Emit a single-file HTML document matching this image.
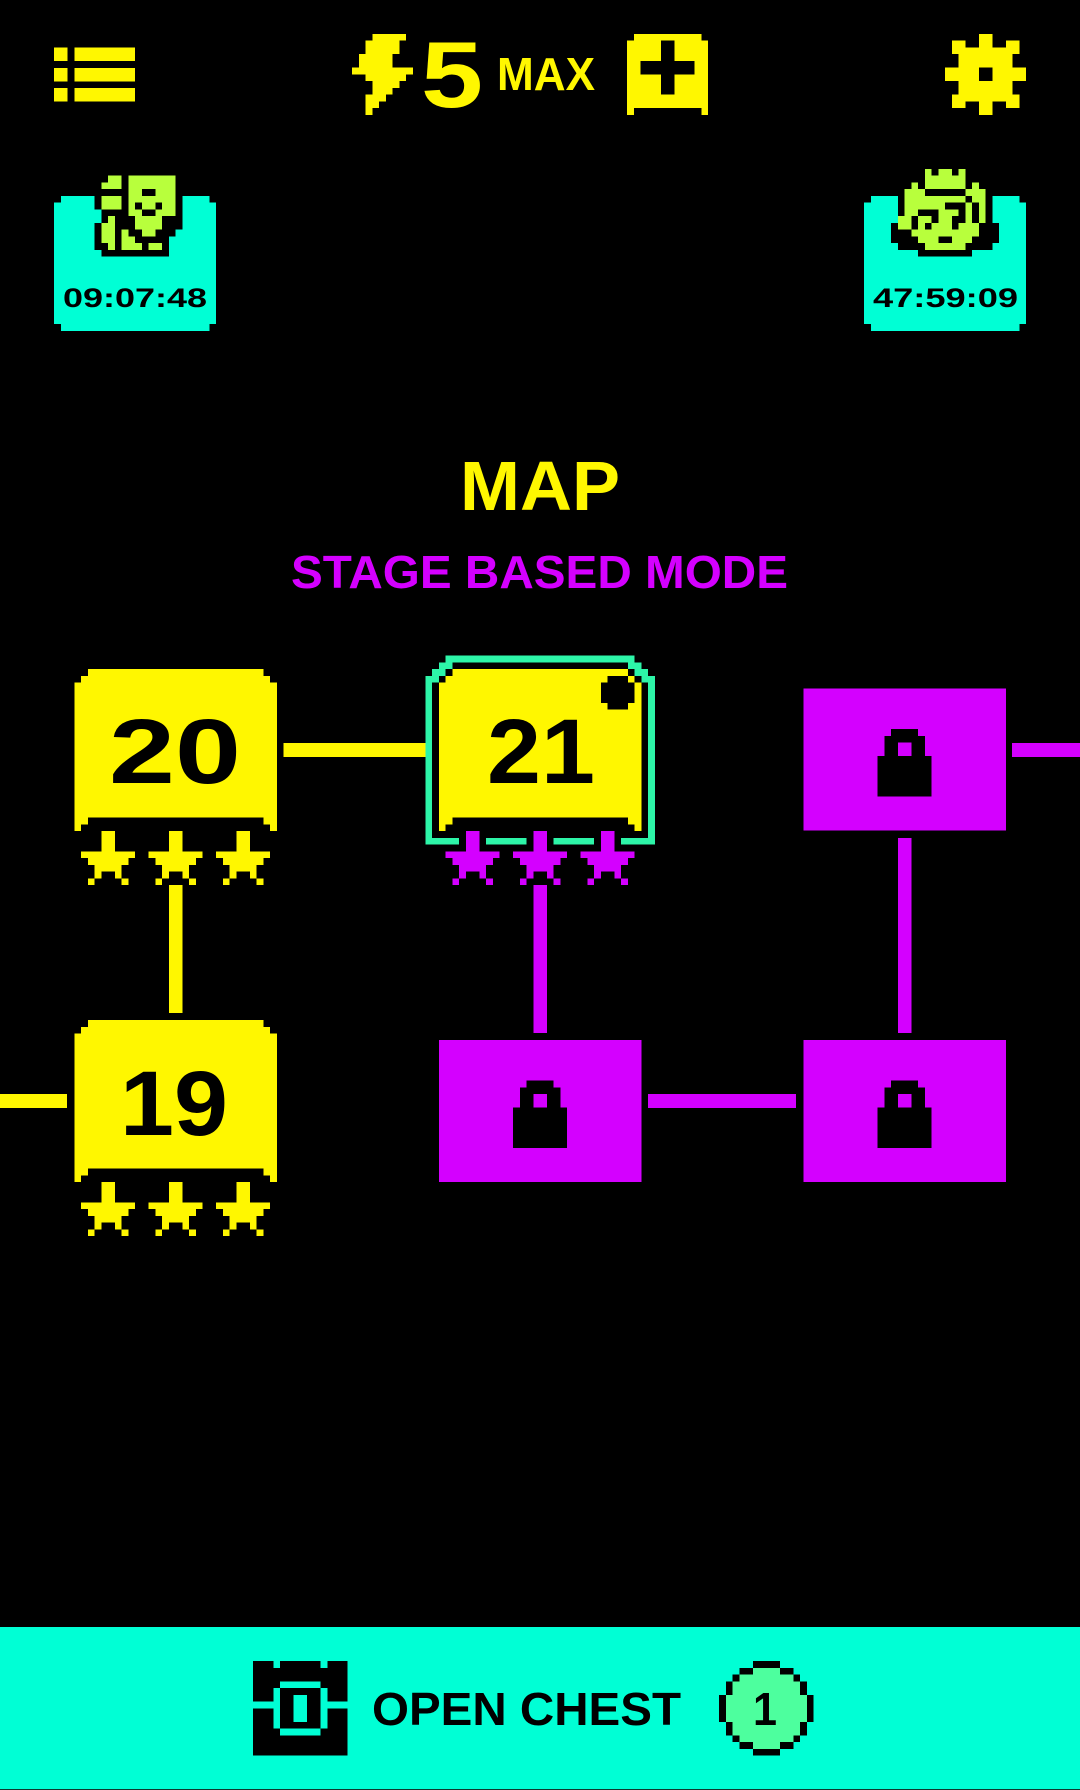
<!DOCTYPE html>
<html><head><meta charset="utf-8"><title>Map</title>
<style>
html,body{margin:0;padding:0;background:#000;width:1080px;height:1790px;overflow:hidden}
svg{display:block}
text{font-family:"Liberation Sans",sans-serif;font-weight:700}
</style></head><body>
<svg xmlns="http://www.w3.org/2000/svg" width="1080" height="1790" viewBox="0 0 1080 1790" shape-rendering="crispEdges">
<defs>
<path id="node" d="M2 0H28V1H29V2H30V24H29V23H28V22H2V23H1V24H0V2H1V1H2Z"/>
<path id="star" d="M3 0H5V3H8V4H7V5H6V7H7V8H6V7H5V6H3V7H2V8H1V7H2V5H1V4H0V3H3Z"/>
<g id="locked">
<rect x="0" y="0" width="30" height="21" fill="#d400ff"/>
<path fill="#000" fill-rule="evenodd" d="M13 6H17V7H18V10H19V16H11V10H12V7H13ZM14 8V10H16V8Z"/>
</g>
</defs>
<rect width="1080" height="1790" fill="#000"/>

<!-- top bar -->
<g transform="translate(54,47.5) scale(6.75)" fill="#fff700">
<rect x="0" y="0" width="2" height="2"/><rect x="3" y="0" width="9" height="2"/>
<rect x="0" y="3" width="2" height="2"/><rect x="3" y="3" width="9" height="2"/>
<rect x="0" y="6" width="2" height="2"/><rect x="3" y="6" width="9" height="2"/>
</g>
<g transform="translate(352,33.75) scale(6.75)" fill="none" stroke="#fff700" stroke-width="1">
<path d="M3 .5h5M2 1.5h5M2 2.5h5M1 3.5h5M1 4.5h5M0 5.5h9M2 6.5h6M3 7.5h4M3 8.5h3M2 9.5h3M2 10.5h2M2 11.5h1"/>
</g>
<text x="421" y="107" font-size="94" fill="#fff700" textLength="62" lengthAdjust="spacingAndGlyphs">5</text>
<text x="497" y="90" font-size="46" fill="#fff700" textLength="98" lengthAdjust="spacingAndGlyphs">MAX</text>
<g transform="translate(627,33.75) scale(6.75)">
<path fill="#fff700" d="M1 0H11V1H12V12H11V11H1V12H0V1H1Z"/>
<path fill="#000" d="M5 1H7V4H10V6H7V9H5V6H2V4H5Z"/>
</g>
<g transform="translate(945,33.75) scale(6.75)" fill="none" stroke="#fff700" stroke-width="1">
<path d="M5 .5h2M1 1.5h2M5 1.5h2M9 1.5h2M1 2.5h10M2 3.5h8M2 4.5h8M0 5.5h5M7 5.5h5M0 6.5h5M7 6.5h5M2 7.5h8M2 8.5h8M1 9.5h10M1 10.5h2M5 10.5h2M9 10.5h2M5 11.5h2"/>
</g>

<!-- avatar cards -->
<g transform="translate(54,195.75) scale(6.75)" fill="#00ffd5"><path d="M1 0H23V1H24V19H23V20H1V19H0V1H1Z"/></g>
<g transform="translate(864,195.75) scale(6.75)" fill="#00ffd5"><path d="M1 0H23V1H24V19H23V20H1V19H0V1H1Z"/></g>

<g transform="translate(101.25,175.5) scale(6.75)" fill="none" stroke-width="1">
<path stroke="#000" d="M-1 3.5h13M-1 4.5h13M0 5.5h12M0 6.5h12M-1 7.5h13M-1 8.5h12M-1 9.5h11M-1 10.5h11M0 11.5h10"/>
<path stroke="#b8ff3c" d="M1 .5h2M4 .5h7M0 1.5h3M4 1.5h7M4 2.5h2M8 2.5h3M0 3.5h3M4 3.5h7M0 4.5h3M4 4.5h1M6 4.5h2M9 4.5h2M4 5.5h2M8 5.5h3M1 6.5h1M5 6.5h4M0 7.5h2M5 7.5h4M0 8.5h2M3 8.5h1M6 8.5h2M0 9.5h2M3 9.5h2M1 10.5h1M3 10.5h3M7 10.5h2"/>
</g>
<g transform="translate(891,168.75) scale(6.75)" fill="none" stroke-width="1">
<path stroke="#000" d="M1 4.5h14M1 5.5h14M1 6.5h14M1 7.5h14M0 8.5h16M0 9.5h16M0 10.5h16M1 11.5h14M4 12.5h8"/>
<path stroke="#b8ff3c" d="M5 .5h1M7 .5h2M10 .5h1M5 1.5h6M3 2.5h1M5 2.5h6M12 2.5h1M2 3.5h3M11 3.5h3M2 4.5h9M12 4.5h2M2 5.5h6M11 5.5h1M13 5.5h1M2 6.5h2M7 6.5h3M11 6.5h1M13 6.5h1M1 7.5h2M4 7.5h2M7 7.5h2M11 7.5h1M13 7.5h1M1 8.5h2M4 8.5h1M6 8.5h3M10 8.5h3M3 9.5h10M4 10.5h3M9 10.5h3M5 11.5h6"/>
</g>
<text x="63" y="307" font-size="27" fill="#000" textLength="144" lengthAdjust="spacingAndGlyphs">09:07:48</text>
<text x="873" y="307" font-size="27" fill="#000" textLength="145" lengthAdjust="spacingAndGlyphs">47:59:09</text>

<!-- titles -->
<text x="460" y="510" font-size="70" fill="#fff700" textLength="160" lengthAdjust="spacingAndGlyphs">MAP</text>
<text x="291" y="588" font-size="46" fill="#d400ff" textLength="497" lengthAdjust="spacingAndGlyphs">STAGE BASED MODE</text>

<!-- connectors -->
<g fill="#fff700">
<rect x="283.5" y="743" width="141.75" height="14"/>
<rect x="168.75" y="885" width="13.5" height="128"/>
<rect x="0" y="1094" width="67" height="14"/>
</g>
<g fill="#d400ff">
<rect x="533.25" y="885" width="13.5" height="148"/>
<rect x="648" y="1094" width="148" height="14"/>
<rect x="897.75" y="838" width="13.5" height="195"/>
<rect x="1012" y="743" width="68" height="14"/>
</g>

<!-- node 20 -->
<g transform="translate(74.25,669) scale(6.75)" fill="#fff700">
<use href="#node"/>
<use href="#star" x="1" y="24"/><use href="#star" x="11" y="24"/><use href="#star" x="21" y="24"/>
</g>
<text x="109" y="783" font-size="92" fill="#000" textLength="132" lengthAdjust="spacingAndGlyphs">20</text>

<!-- node 21 -->
<g transform="translate(438.75,669) scale(6.75)">
<use href="#node" fill="#fff700"/>
<path fill="#000" d="M25 1H28V2H29V5H28V6H25V5H24V2H25Z"/>
<g fill="#d400ff">
<use href="#star" x="1" y="24"/><use href="#star" x="11" y="24"/><use href="#star" x="21" y="24"/>
</g>
<path fill="none" stroke="#2df5a8" stroke-width="1" d="M1 -1.5h28M0 -.5h2M28 -.5h2M-1 .5h2M29 .5h2M-2 1.5h2M30 1.5h2M-1.5 2v23M31.5 2v23M-2 25.5h5M7 25.5h6M17 25.5h6M27 25.5h5"/>
</g>
<text x="487" y="783" font-size="92" fill="#000" textLength="108" lengthAdjust="spacingAndGlyphs">21</text>

<!-- node 19 -->
<g transform="translate(74.25,1020) scale(6.75)" fill="#fff700">
<use href="#node"/>
<use href="#star" x="1" y="24"/><use href="#star" x="11" y="24"/><use href="#star" x="21" y="24"/>
</g>
<text x="120" y="1135" font-size="92" fill="#000" textLength="108" lengthAdjust="spacingAndGlyphs">19</text>

<!-- locked nodes -->
<g transform="translate(803.25,688.5) scale(6.75)"><use href="#locked"/></g>
<g transform="translate(438.75,1040) scale(6.75)"><use href="#locked"/></g>
<g transform="translate(803.25,1040) scale(6.75)"><use href="#locked"/></g>

<!-- bottom bar -->
<rect x="0" y="1627" width="1080" height="162" fill="#00ffd5"/>
<rect x="0" y="1789" width="1080" height="1" fill="#0a3a30"/>
<g transform="translate(253,1661) scale(6.75)" fill="none" stroke-width="1">
<path stroke="#000" d="M0 .5h3M4 .5h6M11 .5h3M0 1.5h14M0 2.5h14M0 3.5h4M10 3.5h4M0 4.5h3M11 4.5h3M0 5.5h3M11 5.5h3M0 7.5h3M11 7.5h3M0 8.5h3M11 8.5h3M0 9.5h3M11 9.5h3M0 10.5h4M10 10.5h4M0 11.5h14M0 12.5h14M0 13.5h14"/>
<path fill="#000" stroke="none" fill-rule="evenodd" d="M4 4H10V10H4ZM6 5V9H8V5Z"/>
</g>
<text x="372" y="1725" font-size="46" fill="#000" textLength="309" lengthAdjust="spacingAndGlyphs">OPEN CHEST</text>
<g transform="translate(719,1661) scale(6.75)" fill="none" stroke-width="1">
<path stroke="#4dff9e" d="M5 1.5h4M3 2.5h8M2 3.5h10M2 4.5h10M1 5.5h12M1 6.5h12M1 7.5h12M1 8.5h12M2 9.5h10M2 10.5h10M3 11.5h8M5 12.5h4"/>
<path stroke="#000" d="M5 .5h4M3 1.5h2M9 1.5h2M2 2.5h1M11 2.5h1M1 3.5h1M12 3.5h1M1 4.5h1M12 4.5h1M0 5.5h1M13 5.5h1M0 6.5h1M13 6.5h1M0 7.5h1M13 7.5h1M0 8.5h1M13 8.5h1M1 9.5h1M12 9.5h1M1 10.5h1M12 10.5h1M2 11.5h1M11 11.5h1M3 12.5h2M9 12.5h2M5 13.5h4"/>
</g>
<text x="753" y="1725" font-size="46" fill="#000" textLength="24" lengthAdjust="spacingAndGlyphs">1</text>
</svg>
</body></html>
